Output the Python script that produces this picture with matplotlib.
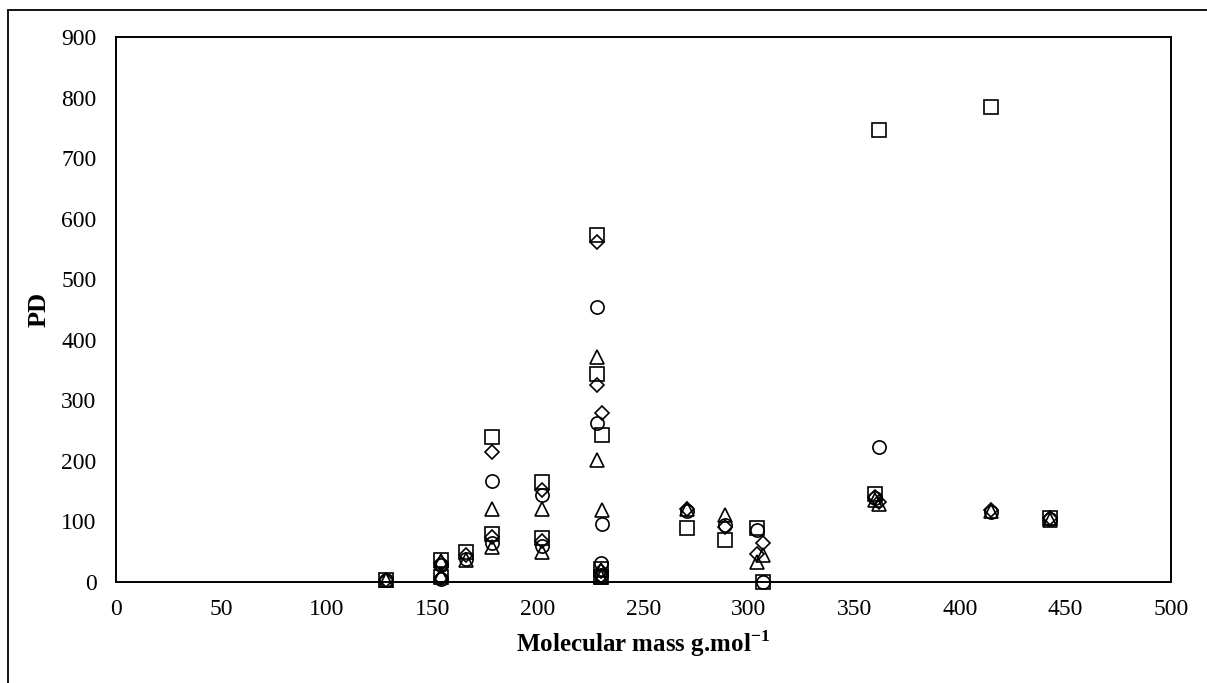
import matplotlib
matplotlib.use("Agg")
from matplotlib import pyplot as plt
from matplotlib.patches import Rectangle

# molecular mass of each compound (g/mol)
mass = [128, 154, 154, 166, 178, 178, 202, 202, 228, 228, 230.5, 230, 230,
        270.6, 288.6, 304, 306.6, 361.5, 359.5, 414.7, 442.6]

# PD values per series, one value per compound
pd_square = [3, 37, 9, 50, 239, 79, 165, 73, 573, 343, 243, 22, 8,
             90, 70, 89, 0, 746, 146, 785, 105]
pd_diamond = [3, 32, 6, 45, 215, 74, 152, 68, 562, 325, 279, 18, 10,
              120, 91, 46, 64, 132, 140, 119, 106]
pd_circle = [3, 28, 5, 38, 167, 64, 144, 60, 454, 262, 96, 32, 12,
             118, 94, 86, 0, 223, 138, 116, 104]
pd_triangle = [4, 34, 12, 37, 120, 57, 120, 50, 372, 201, 119, 20, 8,
               121, 110, 33, 45, 128, 136, 117, 103]

x_ticks = list(range(0, 501, 50))
y_ticks = list(range(0, 901, 100))

plt.rcParams['font.family'] = ['Liberation Serif', 'DejaVu Serif']
plt.rcParams['mathtext.fontset'] = 'custom'
plt.rcParams['mathtext.rm'] = 'Liberation Serif'
plt.rcParams['mathtext.bf'] = 'Liberation Serif:bold'

W, H = 1207, 683
fig = plt.figure(figsize=(W / 100, H / 100), dpi=100)
ax = fig.add_axes([116 / W, 1 - 582 / H, (1171 - 116) / W, (582 - 37) / H])

# outer chart-area frame (only left and top edges show)
fig.add_artist(Rectangle((8 / W, -0.2), 1.5, 1 - 10 / H + 0.2,
                         transform=fig.transFigure, fill=False,
                         edgecolor='black', linewidth=1.3))

series = [
    (pd_square, 's', 9.5),
    (pd_diamond, 'D', 7.0),
    (pd_circle, 'o', 9.5),
    (pd_triangle, '^', 9.5),
]
for values, marker, size in series:
    ax.plot(mass, values, linestyle='none', marker=marker, markersize=size,
            markerfacecolor='none', markeredgecolor='black',
            markeredgewidth=1.2, clip_on=False)

ax.set_xlim(0, 500)
ax.set_ylim(0, 900)
ax.set_xticks(x_ticks)
ax.set_yticks(y_ticks)
ax.tick_params(length=0, labelsize=17, pad=14)
ax.tick_params(axis='x', pad=12)
for spine in ax.spines.values():
    spine.set_linewidth(1.4)

ax.set_xlabel('Molecular mass g.mol$^{\\mathbf{-1}}$', fontsize=18,
              fontweight='bold')
ax.xaxis.set_label_coords(0.5, -0.085)
ax.set_ylabel('PD', fontsize=19, fontweight='bold')
ax.yaxis.set_label_coords(-0.062, 0.5)

fig.savefig('out.png', dpi=100)
